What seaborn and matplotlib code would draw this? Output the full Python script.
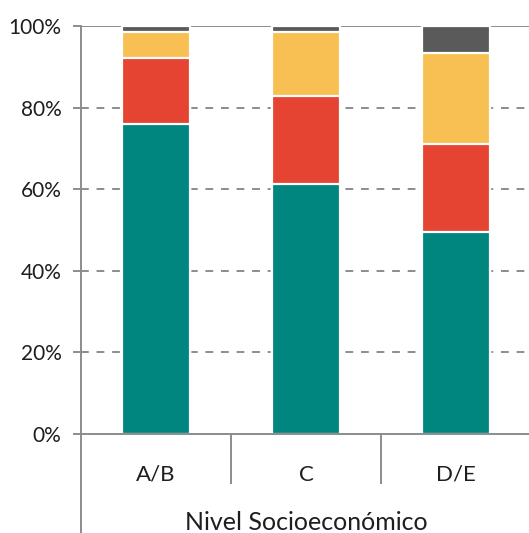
import numpy as np
import pandas as pd
import seaborn as sns
from matplotlib import pyplot as plt

# Data (percent shares per socioeconomic level, bottom to top)
categories = ['A/B', 'C', 'D/E']
teal_vals = [76.0, 61.2, 49.4]
red_vals = [16.2, 21.6, 21.6]
yellow_vals = [6.3, 15.7, 22.5]
dark_vals = [1.5, 1.5, 6.5]
y_ticks = [0, 20, 40, 60, 80, 100]
y_tick_labels = ['0%', '20%', '40%', '60%', '80%', '100%']
x_label = 'Nivel Socioeconómico'

colors = ['#00857F', '#E44431', '#F8BF52', '#5A5A5A']
grid_color = '#8C8C8C'
text_color = '#1E1E1E'

sns.set_style('white')
plt.rcParams['font.family'] = ['Lato', 'DejaVu Sans']

fig = plt.figure(figsize=(5.29, 5.33), dpi=100)
ax = fig.add_axes([81 / 529, 99 / 533, 450 / 529, 408 / 533])

# Stacked bars: draw cumulative totals from the top segment down
series = [teal_vals, red_vals, yellow_vals, dark_vals]
cum = np.cumsum(np.array(series), axis=0)
for i in range(len(series) - 1, -1, -1):
    df = pd.DataFrame({'cat': categories, 'val': cum[i]})
    sns.barplot(data=df, x='cat', y='val', color=colors[i], saturation=1,
                width=0.453, edgecolor='white', linewidth=1.6, ax=ax, zorder=2)

# Gridlines
for t in y_ticks[1:]:
    ax.axhline(t, color=grid_color, lw=1.4, zorder=0,
               ls='-' if t == 100 else (0, (4, 4)))

ax.set_xlim(-0.5, 2.5)
ax.set_ylim(0, 100)
ax.set_yticks(y_ticks)
ax.set_yticklabels(y_tick_labels, fontsize=15, color=text_color)
ax.tick_params(axis='y', length=6, width=1.4, color=grid_color, pad=8, left=True)

ax.set_xticks(range(len(categories)))
ax.set_xticklabels(categories, fontsize=16, color=text_color)
ax.set_xticks([0.5, 1.5], minor=True)
ax.tick_params(axis='x', which='major', length=0, pad=22)
ax.tick_params(axis='x', which='minor', length=36, width=1.4, color=grid_color, bottom=True)

ax.set_xlabel(x_label, fontsize=18, color=text_color, labelpad=16)
ax.set_ylabel('')

for s in ['top', 'right']:
    ax.spines[s].set_visible(False)
ax.spines['bottom'].set_color(grid_color)
ax.spines['bottom'].set_linewidth(1.4)
ax.spines['left'].set_color(grid_color)
ax.spines['left'].set_linewidth(1.4)
ax.spines['left'].set_bounds(-25, 100)

fig.savefig('out.png', dpi=100)
